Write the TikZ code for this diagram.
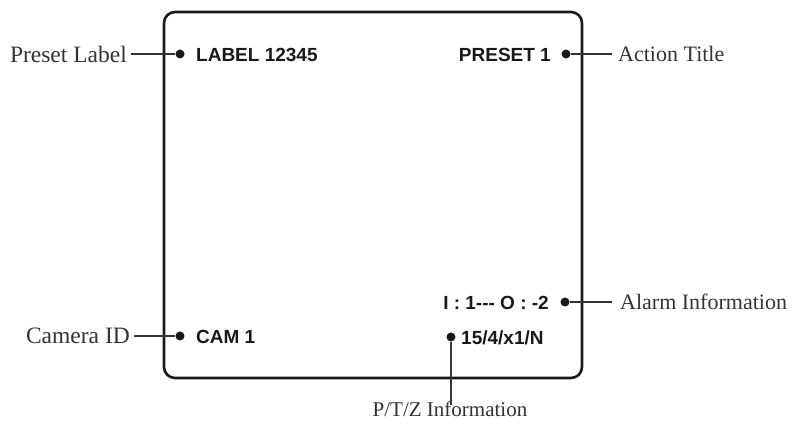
\documentclass[tikz,border=0pt]{standalone}
\usepackage{fontspec}
\setmainfont{Liberation Serif}
\newfontfamily\osdfont{Liberation Sans}
\begin{document}
\begin{tikzpicture}[x=1pt,y=-1pt,
  lbl/.style={font=\fontsize{22}{24}\selectfont, text=black!80, inner sep=0pt},
  lblbig/.style={lbl, font=\fontsize{23.5}{25}\selectfont},
  osd/.style={font=\osdfont\bfseries\fontsize{19}{21}\selectfont, inner sep=0pt, text=black!90},
  dotn/.style={circle, fill=black!90, inner sep=0pt, minimum size=9pt},
  lead/.style={line width=1.2pt, draw=black!80},
  screen/.style={line width=2.6pt, draw=black!90, rounded corners=11pt}]
\useasboundingbox (0,0) rectangle (800,427);
\draw[screen] (164,12) rectangle (582,378);
% top-left
\node[dotn] (d1) at (180,54) {};
\node[osd, anchor=west] (t1) at (196,55) {LABEL 12345};
\node[lblbig, anchor=east] (l1) at (127,54) {Preset Label};
\draw[lead] ([xshift=4pt]l1.east) -- (d1);
% top-right
\node[dotn] (d2) at (566,54) {};
\node[osd, anchor=east] (t2) at (551,55) {PRESET 1};
\node[lbl, anchor=west] (l2) at (618,54) {Action Title};
\draw[lead] (d2) -- ([xshift=-6pt]l2.west);
% alarm
\node[dotn] (d3) at (565,302) {};
\node[osd, anchor=east] (t3) at (549,303) {I : 1--- O : -2};
\node[lbl, anchor=west] (l3) at (620,302) {Alarm Information};
\draw[lead] (d3) -- ([xshift=-8pt]l3.west);
% camera id
\node[dotn] (d4) at (180,336) {};
\node[osd, anchor=west] (t4) at (196,337) {CAM 1};
\node[lblbig, anchor=east] (l4) at (130,336) {Camera ID};
\draw[lead] ([xshift=4pt]l4.east) -- (d4);
% ptz
\node[dotn] (d5) at (451,337) {};
\node[osd, anchor=west] (t5) at (461,338) {15/4/x1/N};
\node[lbl, font=\fontsize{21}{23}\selectfont, anchor=north] (l5) at (450,402) {P/T/Z Information};
\draw[lead] (d5) -- ([yshift=-3pt]l5.north -| d5);
\end{tikzpicture}
\end{document}
